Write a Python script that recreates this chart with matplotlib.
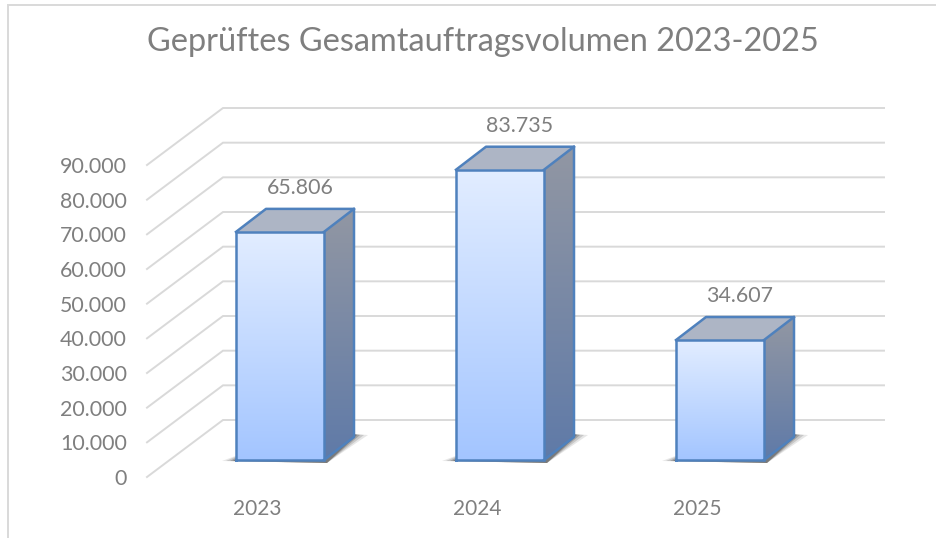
"""Geprueftes Gesamtauftragsvolumen as a Excel style 3D column chart."""

import matplotlib

matplotlib.use("Agg")
import matplotlib.pyplot as plt
import numpy as np
from matplotlib.colors import LinearSegmentedColormap
from matplotlib.patches import PathPatch, Polygon
from matplotlib.path import Path

years = ["2023", "2024", "2025"]
volumes = [65806, 83735, 34607]
value_ticks = [0, 10000, 20000, 30000, 40000, 50000, 60000, 70000, 80000, 90000]
title = "Geprüftes Gesamtauftragsvolumen 2023-2025"

plt.rcParams["font.family"] = ["Lato", "DejaVu Sans"]

W, H = 937, 538
GRAY = "#7f7f7f"
GRID = "#d9d9d9"
EDGE = "#4f81bd"

fig = plt.figure(figsize=(W / 100, H / 100), dpi=100)
# axes is the front plane of the 3D box
left, right, bottom, top = 147, 807, 477, 165
ax = fig.add_axes([left / W, 1 - bottom / H, (right - left) / W, (bottom - top) / H])
ax.set_xlim(-0.5, 2.5)
ax.set_ylim(0, 90000)
for spine in ax.spines.values():
    spine.set_visible(False)

px_x = 3 / (right - left)
px_y = 90000 / (bottom - top)


def off(x, y, dx, dy):
    """Shift a data point by screen pixels (dy up)."""
    return x + dx * px_x, y + dy * px_y


# back wall and floor/side lines
for v in value_ticks:
    x0, y0 = -0.5, v
    x1, y1 = off(x0, y0, 76, 57)
    x2, _ = off(2.5, y0, 77, 57)
    ax.plot([x0, x1, x2], [y0, y1, y1], color=GRID, lw=1.4, clip_on=False, zorder=1,
            solid_joinstyle="miter")

front_cmap = LinearSegmentedColormap.from_list("front", ["#a3c5ff", "#e2edff"])
side_cmap = LinearSegmentedColormap.from_list("side", ["#5f7aa8", "#9297a3"])
half = 44
for i, (year, vol) in enumerate(zip(years, volumes)):
    fl, base = off(i, 0, -half + 23, 17)
    fr, _ = off(i, 0, half + 23, 17)
    _, ftop = off(i, vol, 0, 17)
    br, bbase = off(fr, base, 30, 23)
    btop = off(fr, ftop, 30, 23)[1]
    bl = off(fl, ftop, 30, 23)[0]

    # soft shadow on the floor
    for grow, alpha in [(14, 0.12), (10, 0.18), (6, 0.28), (3, 0.4)]:
        pts = [off(fl, base, -grow, -1), off(fr, base, 3, -3),
               off(br, bbase, grow, 2), off(br, bbase, 0, 3), off(fl, base, 10, 8)]
        ax.add_patch(Polygon(pts, closed=True, fc="#404040", ec="none", alpha=alpha,
                             clip_on=False, zorder=2))

    # side face, gradient runs down and slightly across
    side_pts = [(fr, base), (br, bbase), (br, btop), (fr, ftop)]
    grad = np.linspace(0, 1, 256).reshape(-1, 1)
    im = ax.imshow(grad, cmap=side_cmap, origin="lower", aspect="auto",
                   extent=[fr, br, base, btop], zorder=3)
    # the image falls back to the axes box otherwise and loses its top
    im.set_clip_box(fig.bbox)
    im.set_clip_path(PathPatch(Path(side_pts + [side_pts[0]]), transform=ax.transData))

    # front face
    ax.imshow(grad, cmap=front_cmap, origin="lower", aspect="auto",
              extent=[fl, fr, base, ftop], zorder=3, clip_on=False)

    # top face
    ax.add_patch(Polygon([(fl, ftop), (fr, ftop), (br, btop), (bl, btop)], closed=True,
                         fc="#adb5c5", ec="none", zorder=3, clip_on=False))

    # outlines
    ax.plot([fl, fr, fr, fl, fl], [base, base, ftop, ftop, base], color=EDGE, lw=1.8,
            zorder=5, clip_on=False, solid_joinstyle="miter")
    ax.plot([fr, br, br, bl, fl], [base, bbase, btop, btop, ftop], color=EDGE, lw=1.8,
            zorder=5, clip_on=False, solid_joinstyle="round")
    ax.plot([fr, br], [ftop, btop], color=EDGE, lw=1.8, zorder=5, clip_on=False)

    lx, ly = off(i, vol, 43, 17 + 23 + 21)
    ax.text(lx, ly, f"{vol:,}".replace(",", "."), ha="center", va="center", color=GRAY,
            fontsize=15.4, zorder=6, clip_on=False)

ax.set_xlim(-0.5, 2.5)
ax.set_ylim(0, 90000)
ax.set_xticks(range(len(years)), years)
ax.set_yticks(value_ticks, [f"{v:,}".replace(",", ".") for v in value_ticks])
ax.tick_params(axis="y", length=0, pad=14.5, labelsize=15.4, labelcolor=GRAY)
ax.tick_params(axis="x", length=0, pad=15.5, labelsize=15, labelcolor=GRAY)

fig.text(483 / W, 1 - 42 / H, title, ha="center", va="center", color=GRAY, fontsize=23.4)

# chart frame, left and top only are visible in the crop
fig.add_artist(plt.Line2D([8 / W, 8 / W, 1], [0, 1 - 5 / H, 1 - 5 / H], color=GRID, lw=1.4,
                          solid_joinstyle="miter"))

fig.savefig("out.png", dpi=100)
